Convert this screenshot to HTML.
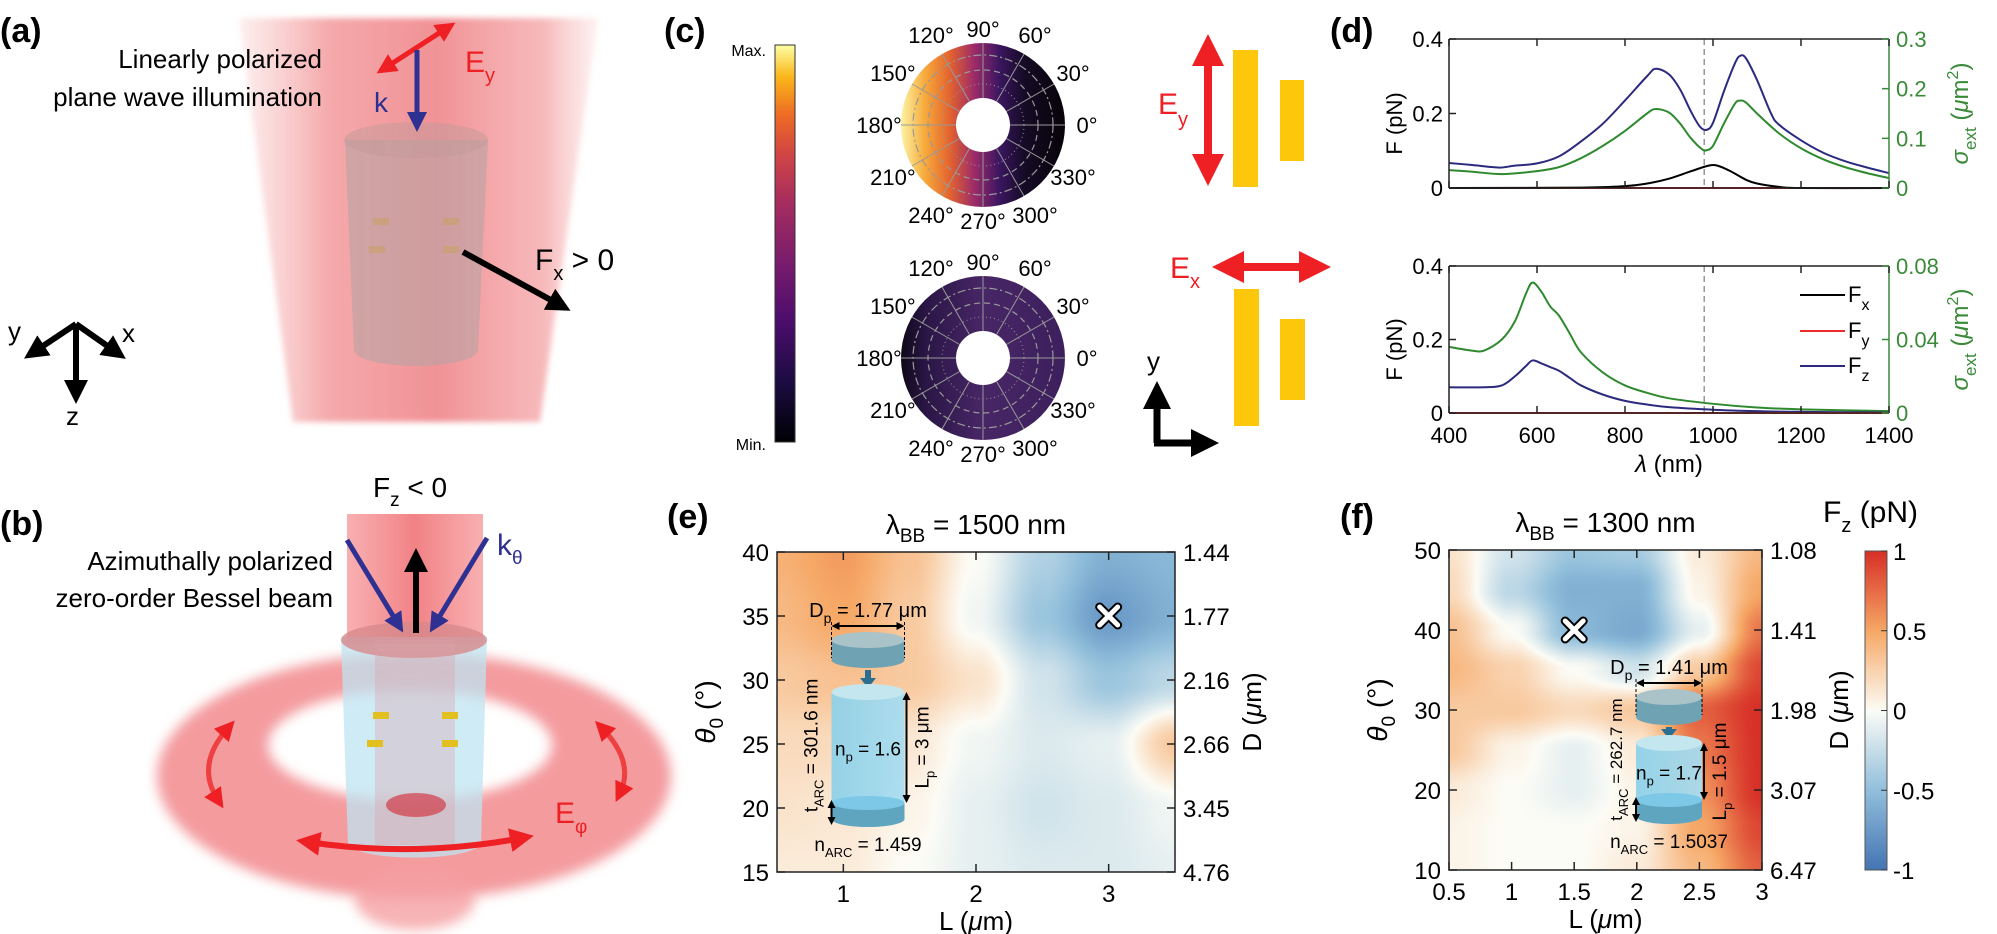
<!DOCTYPE html>
<html><head><meta charset="utf-8">
<style>
html,body{margin:0;padding:0;background:#fff;}
#wrap{position:relative;width:1997px;height:934px;overflow:hidden;font-family:"Liberation Sans",sans-serif;}
canvas{position:absolute;}
svg{position:absolute;left:0;top:0;}
text{font-family:"Liberation Sans",sans-serif;}
.nar{font-family:"Liberation Sans Narrow","Liberation Sans",sans-serif;}
</style></head>
<body>
<div id="wrap">
<canvas id="heatE" width="398" height="320" style="left:777px;top:552px;"></canvas>
<canvas id="heatF" width="313" height="320" style="left:1449px;top:550px;"></canvas>
<canvas id="cbar" width="22" height="319" style="left:1865px;top:551px;"></canvas>
<svg id="svg" width="1997" height="934" viewBox="0 0 1997 934" xmlns="http://www.w3.org/2000/svg">
<defs>
 <linearGradient id="beamA" x1="0" x2="1" y1="0" y2="0">
  <stop offset="0" stop-color="#f7b0b0" stop-opacity="0.2"/>
  <stop offset="0.25" stop-color="#f39a9c" stop-opacity="0.85"/>
  <stop offset="0.55" stop-color="#f08c90" stop-opacity="0.95"/>
  <stop offset="0.85" stop-color="#f5a8aa" stop-opacity="0.8"/>
  <stop offset="1" stop-color="#fbd0d0" stop-opacity="0.3"/>
 </linearGradient>
 <linearGradient id="beamB" x1="0" x2="1">
  <stop offset="0" stop-color="#f58a8c" stop-opacity="0.8"/>
  <stop offset="0.5" stop-color="#ef6b70"/>
  <stop offset="1" stop-color="#f58a8c" stop-opacity="0.8"/>
 </linearGradient>
 <filter id="blur6"><feGaussianBlur stdDeviation="6"/></filter>
 <filter id="blur3"><feGaussianBlur stdDeviation="3"/></filter>
 <linearGradient id="pol1" x1="0" x2="1">
  <stop offset="0" stop-color="#fcf4a2"/>
  <stop offset="0.15" stop-color="#f6a83a"/>
  <stop offset="0.3" stop-color="#e2622f"/>
  <stop offset="0.45" stop-color="#9b2a6a"/>
  <stop offset="0.6" stop-color="#3b1660"/>
  <stop offset="0.75" stop-color="#160b26"/>
  <stop offset="1" stop-color="#060308"/>
 </linearGradient>
 <linearGradient id="pol2" x1="0" x2="1">
  <stop offset="0" stop-color="#0f0818"/>
  <stop offset="0.15" stop-color="#2a1646"/>
  <stop offset="0.5" stop-color="#482666"/>
  <stop offset="1" stop-color="#3c1f5c"/>
 </linearGradient>
 <linearGradient id="infcb" x1="0" x2="0" y1="1" y2="0">
  <stop offset="0" stop-color="#000004"/>
  <stop offset="0.15" stop-color="#1b0c41"/>
  <stop offset="0.3" stop-color="#4a0c6b"/>
  <stop offset="0.45" stop-color="#781c6d"/>
  <stop offset="0.6" stop-color="#a52c60"/>
  <stop offset="0.72" stop-color="#cf4446"/>
  <stop offset="0.82" stop-color="#ed6925"/>
  <stop offset="0.92" stop-color="#fbb61a"/>
  <stop offset="1" stop-color="#fcffa4"/>
 </linearGradient>
 <linearGradient id="cylE" x1="0" x2="1">
  <stop offset="0" stop-color="#8fd0e8"/><stop offset="1" stop-color="#a8dcef"/>
 </linearGradient>
 <marker id="ahR" markerWidth="4" markerHeight="4" refX="2" refY="2" orient="auto-start-reverse" markerUnits="strokeWidth"><path d="M0,0 L4,2 L0,4 Z" fill="#ee2024"/></marker>
 <marker id="ahK" markerWidth="4" markerHeight="4" refX="2" refY="2" orient="auto-start-reverse" markerUnits="strokeWidth"><path d="M0,0 L4,2 L0,4 Z" fill="#000"/></marker>
 <marker id="ahB" markerWidth="4" markerHeight="4" refX="2" refY="2" orient="auto-start-reverse" markerUnits="strokeWidth"><path d="M0,0 L4,2 L0,4 Z" fill="#2e3192"/></marker>
 <marker id="ahS" markerWidth="8" markerHeight="8" refX="4" refY="4" orient="auto-start-reverse" markerUnits="userSpaceOnUse"><path d="M0,0 L8,4 L0,8 Z" fill="#000"/></marker>
</defs>

<g>
 <text x="0" y="42" font-size="34" font-weight="bold">(a)</text>
 <polygon points="239,18 598,18 540,422 293,422" fill="url(#beamA)" filter="url(#blur3)"/>
 <path d="M345,140 L354,350 A62,16 0 0 0 478,350 L488,140 Z" fill="#b7a3a3" opacity="0.6"/>
 <ellipse cx="416" cy="140" rx="72" ry="18" fill="#c49a9a" opacity="0.5"/>
 <g fill="#c9a070" opacity="0.7"><rect x="373" y="218" width="16" height="7"/><rect x="443" y="218" width="16" height="7"/><rect x="369" y="246" width="16" height="7"/><rect x="443" y="246" width="16" height="7"/></g>
 <text x="322" y="68" font-size="26" text-anchor="end">Linearly polarized</text>
 <text x="322" y="106" font-size="26" text-anchor="end">plane wave illumination</text>
 <line x1="385" y1="68" x2="447" y2="28" stroke="#ee2024" stroke-width="5" marker-start="url(#ahR)" marker-end="url(#ahR)"/>
 <line x1="417" y1="50" x2="417" y2="122" stroke="#2e3192" stroke-width="5" marker-end="url(#ahB)"/>
 <text x="374" y="112" font-size="28" fill="#2e3192">k</text>
 <text x="465" y="72" font-size="30" fill="#ee2024">E<tspan font-size="20" dy="10">y</tspan></text>
 <line x1="463" y1="252" x2="560" y2="305" stroke="#000" stroke-width="6" marker-end="url(#ahK)"/>
 <text x="535" y="270" font-size="30">F<tspan font-size="20" dy="10">x</tspan><tspan dy="-10"> &gt; 0</tspan></text>
 <g stroke="#000" stroke-width="6">
  <line x1="76" y1="324" x2="76" y2="392" marker-end="url(#ahK)"/>
  <line x1="76" y1="324" x2="34" y2="352" marker-end="url(#ahK)"/>
  <line x1="76" y1="324" x2="116" y2="352" marker-end="url(#ahK)"/>
 </g>
 <text x="8" y="340" font-size="26">y</text>
 <text x="122" y="342" font-size="26">x</text>
 <text x="66" y="425" font-size="26">z</text>
</g>

<g>
 <text x="0" y="535" font-size="34" font-weight="bold">(b)</text>
 <text x="410" y="497" font-size="28" text-anchor="middle">F<tspan font-size="19" dy="9">z</tspan><tspan dy="-9"> &lt; 0</tspan></text>
 <text x="333" y="570" font-size="26" text-anchor="end">Azimuthally polarized</text>
 <text x="333" y="607" font-size="26" text-anchor="end">zero-order Bessel beam</text>
 <rect x="347" y="514" width="136" height="130" fill="url(#beamB)" opacity="0.85"/>
 <path fill-rule="evenodd" d="M157,776 a257,123 0 1 0 514,0 a257,123 0 1 0 -514,0 Z M268,745 a142,55 0 1 0 284,0 a142,55 0 1 0 -284,0 Z" fill="#f28a8e" opacity="0.85" filter="url(#blur6)"/>
 <ellipse cx="415" cy="900" rx="60" ry="30" fill="#f5a0a3" opacity="0.8" filter="url(#blur6)"/>
 <path d="M341,637 L348,845 A68,16 0 0 0 481,845 L487,637 Z" fill="#bfe4f2" opacity="0.75"/>
 <ellipse cx="414" cy="640" rx="73" ry="18" fill="#d78a8c" opacity="0.8"/>
 <rect x="375" y="640" width="80" height="205" fill="#d9a0a8" opacity="0.35"/>
 <ellipse cx="416" cy="805" rx="30" ry="12" fill="#d23c48" opacity="0.7"/>
 <g fill="#e2c020"><rect x="373" y="712" width="16" height="7"/><rect x="442" y="712" width="16" height="7"/><rect x="367" y="740" width="16" height="7"/><rect x="442" y="740" width="16" height="7"/></g>
 <line x1="416" y1="633" x2="416" y2="560" stroke="#000" stroke-width="6" marker-end="url(#ahK)"/>
 <line x1="347" y1="540" x2="398" y2="624" stroke="#2e3192" stroke-width="5" marker-end="url(#ahB)"/>
 <line x1="487" y1="538" x2="435" y2="624" stroke="#2e3192" stroke-width="5" marker-end="url(#ahB)"/>
 <text x="497" y="555" font-size="30" fill="#2e3192">k<tspan font-size="19" dy="9">θ</tspan></text>
 <path d="M308,842 Q415,858 522,838" fill="none" stroke="#ee2024" stroke-width="6" marker-start="url(#ahR)" marker-end="url(#ahR)"/>
 <path d="M228,728 Q195,765 218,800" fill="none" stroke="#ee4040" stroke-width="5" marker-start="url(#ahR)" marker-end="url(#ahR)"/>
 <path d="M602,728 Q635,762 620,793" fill="none" stroke="#ee4040" stroke-width="5" marker-start="url(#ahR)" marker-end="url(#ahR)"/>
 <text x="555" y="823" font-size="30" fill="#ee2024">E<tspan font-size="19" dy="10">φ</tspan></text>
</g>

<g>
 <text x="664" y="42" font-size="34" font-weight="bold">(c)</text>
 <rect x="775" y="45" width="20" height="397" fill="url(#infcb)" stroke="#333" stroke-width="1"/>
 <text x="766" y="56" font-size="16" text-anchor="end">Max.</text>
 <text x="766" y="450" font-size="16" text-anchor="end">Min.</text>
 <g id="polars"></g>
</g>

<g>
 <line x1="1208" y1="50" x2="1208" y2="170" stroke="#ee2024" stroke-width="8" marker-start="url(#ahR)" marker-end="url(#ahR)"/>
 <text x="1158" y="114" font-size="30" fill="#ee2024">E<tspan font-size="20" dy="12">y</tspan></text>
 <rect x="1233" y="50" width="25" height="137" fill="#fdc70c"/>
 <rect x="1280" y="80" width="24" height="81" fill="#fdc70c"/>
 <line x1="1228" y1="267" x2="1315" y2="267" stroke="#ee2024" stroke-width="8" marker-start="url(#ahR)" marker-end="url(#ahR)"/>
 <text x="1170" y="278" font-size="30" fill="#ee2024">E<tspan font-size="20" dy="10">x</tspan></text>
 <rect x="1234" y="289" width="25" height="137" fill="#fdc70c"/>
 <rect x="1280" y="319" width="25" height="81" fill="#fdc70c"/>
 <line x1="1157" y1="443" x2="1157" y2="395" stroke="#000" stroke-width="7" marker-end="url(#ahK)"/>
 <line x1="1154" y1="443" x2="1205" y2="443" stroke="#000" stroke-width="7" marker-end="url(#ahK)"/>
 <text x="1147" y="370" font-size="26">y</text>
</g>

<g id="panelD">
 <text x="1330" y="42" font-size="34" font-weight="bold">(d)</text>
</g>

<g id="panelE">
 <text x="667" y="528" font-size="34" font-weight="bold">(e)</text>
</g>
<g id="panelF">
 <text x="1340" y="528" font-size="34" font-weight="bold">(f)</text>
</g>
</svg>
</div>
<script>
const lamFzTop=[400,450,500,520,550,600,650,700,750,800,850,870,900,925,950,970,985,1000,1025,1050,1062,1075,1100,1132,1150,1200,1250,1300,1350,1400];
const fzTop=[0.067,0.062,0.056,0.055,0.06,0.066,0.085,0.125,0.173,0.235,0.3,0.32,0.305,0.265,0.205,0.165,0.156,0.175,0.26,0.335,0.355,0.348,0.29,0.2,0.17,0.128,0.095,0.072,0.055,0.04];
const lamSigTop=[400,450,520,600,650,700,750,800,850,870,900,925,950,975,985,1000,1025,1050,1062,1075,1100,1150,1200,1250,1300,1350,1400];
const sigTop=[0.036,0.033,0.028,0.034,0.042,0.06,0.085,0.115,0.15,0.159,0.152,0.13,0.1,0.078,0.076,0.085,0.13,0.17,0.176,0.172,0.15,0.11,0.08,0.058,0.042,0.03,0.02];
const lamFxTop=[400,700,800,850,900,950,990,1010,1040,1075,1100,1150,1200,1400];
const fxTop=[0,0.001,0.005,0.012,0.025,0.045,0.06,0.06,0.045,0.022,0.012,0.003,0,0];
const lamSigBot=[400,450,480,520,550,575,590,610,630,650,675,700,750,800,850,900,1000,1100,1200,1400];
const sigBot=[0.036,0.034,0.034,0.04,0.05,0.065,0.071,0.066,0.058,0.053,0.043,0.033,0.022,0.015,0.011,0.008,0.005,0.003,0.002,0.001];
const lamFzBot=[400,480,520,550,575,590,610,630,650,675,700,750,800,850,900,1000,1100,1200,1400];
const fzBot=[0.07,0.07,0.075,0.1,0.128,0.143,0.135,0.125,0.115,0.095,0.075,0.05,0.033,0.023,0.016,0.009,0.005,0.003,0.001];
const lamZero=[400,1400];
const zeroVals=[0,0];
const xTicks=[400,600,800,1000,1200,1400];
const fTicksTop=[0,0.2,0.4];
const sTicksTop=[0,0.1,0.2,0.3];
const sTicksBot=[0,0.04,0.08];
const dashedLambda=980;

const eL=[0.5,1,1.5,2,2.5,3,3.5];
const eTheta=[40,35,30,25,20,15];
const eVals=[
 [0.45,0.55,0.35,0.0,-0.35,-0.6,-0.55],
 [0.4,0.5,0.3,-0.05,-0.45,-0.75,-0.6],
 [0.3,0.35,0.3,0.15,-0.2,-0.45,-0.3],
 [0.2,0.2,0.12,-0.05,-0.15,-0.1,0.3],
 [0.15,0.12,0.05,-0.1,-0.2,-0.15,-0.05],
 [0.1,0.1,0.0,-0.1,-0.15,-0.15,-0.1]];
const eXTicks=[1,2,3];
const eYTicks=[15,20,25,30,35,40];
const eDLabels=["4.76","3.45","2.66","2.16","1.77","1.44"];
const eMark=[3,35];
const fL=[0.5,1,1.5,2,2.5,3];
const fTheta=[50,45,40,35,30,25,20,15,10];
const fVals=[
 [0.15,-0.2,-0.45,-0.4,0.1,0.4],
 [0.2,-0.3,-0.6,-0.6,0.05,0.5],
 [0.35,0.0,-0.55,-0.65,-0.1,0.7],
 [0.4,0.25,0.0,-0.2,0.3,0.9],
 [0.3,0.3,0.2,0.3,0.8,1],
 [0.3,0.05,-0.1,0.1,0.7,1],
 [0.1,0.0,-0.1,0.05,0.6,1],
 [0.05,0.0,0.0,0.05,0.5,0.9],
 [0.05,0.0,0.0,0.1,0.4,0.8]];
const fXTicks=[0.5,1,1.5,2,2.5,3];
const fYTicks=[10,20,30,40,50];
const fDLabels=["6.47","3.07","1.98","1.41","1.08"];
const fMark=[1.5,40];
const cbTicks=[-1,-0.5,0,0.5,1];

const NS="http://www.w3.org/2000/svg";
function mk(tag,attrs,parent,txt){const e=document.createElementNS(NS,tag);for(const k in attrs)e.setAttribute(k,attrs[k]);if(txt!==undefined)e.textContent=txt;parent.appendChild(e);return e;}
function smooth(pts){let d="M"+pts[0][0]+","+pts[0][1];for(let i=0;i<pts.length-1;i++){const p0=pts[Math.max(i-1,0)],p1=pts[i],p2=pts[i+1],p3=pts[Math.min(i+2,pts.length-1)];const c1x=p1[0]+(p2[0]-p0[0])/6,c1y=p1[1]+(p2[1]-p0[1])/6,c2x=p2[0]-(p3[0]-p1[0])/6,c2y=p2[1]-(p3[1]-p1[1])/6;d+=` C${c1x},${c1y} ${c2x},${c2y} ${p2[0]},${p2[1]}`;}return d;}

const D=document.getElementById('panelD');
const X0=1449,X1=1889;
const xs=l=>X0+(l-400)/1000*(X1-X0);
function drawPlot(top,bot,fMax,sMax,sTicks,series,idx){
 const yF=v=>bot-v/fMax*(bot-top), yS=v=>bot-v/sMax*(bot-top);
 const g=mk('g',{},D);
 
 
 mk('line',{x1:xs(dashedLambda),x2:xs(dashedLambda),y1:top,y2:bot,stroke:'#888','stroke-width':1.3,'stroke-dasharray':'6,4'},g);
 series.forEach(s=>{const pts=s.x.map((l,i)=>[xs(l),(s.ax==='s'?yS:yF)(s.y[i])]);const p=mk('path',{d:smooth(pts),fill:'none',stroke:s.c,'stroke-width':2},g);});
 mk('line',{x1:X0,x2:X1,y1:top,y2:top,stroke:'#222','stroke-width':1.5},g);
 mk('line',{x1:X0,x2:X0,y1:top,y2:bot,stroke:'#222','stroke-width':1.5},g);
 mk('line',{x1:X0,x2:X1,y1:bot,y2:bot,stroke:'#222','stroke-width':1.5},g);
 mk('line',{x1:X1,x2:X1,y1:top,y2:bot,stroke:'#3a8a3a','stroke-width':1.5},g);
 xTicks.forEach(t=>{mk('line',{x1:xs(t),x2:xs(t),y1:top,y2:top+7,stroke:'#222','stroke-width':1.5},g);mk('line',{x1:xs(t),x2:xs(t),y1:bot,y2:bot-7,stroke:'#222','stroke-width':1.5},g);});
 fTicksTop.forEach(t=>{mk('line',{x1:X0,x2:X0+7,y1:yF(t),y2:yF(t),stroke:'#222','stroke-width':1.5},g);const tx=mk('text',{x:X0-6,y:yF(t)+8,'font-size':22,'text-anchor':'end',class:'nar'},g,String(t));});
 sTicks.forEach(t=>{mk('line',{x1:X1,x2:X1-7,y1:yS(t),y2:yS(t),stroke:'#3a8a3a','stroke-width':1.5},g);mk('text',{x:X1+7,y:yS(t)+8,'font-size':22,fill:'#3a8a3a',class:'nar'},g,String(t));});
 const cy=(top+bot)/2;
 const yl=mk('text',{x:0,y:0,'font-size':22,'text-anchor':'middle',transform:`translate(1402,${cy+10}) rotate(-90)`},g,'F (pN)');
 
 const sl=mk('text',{x:0,y:0,'font-size':24,'text-anchor':'middle',fill:'#3a8a3a',transform:`translate(1968,${cy}) rotate(-90)`},g);
 
 sl.innerHTML='<tspan font-style="italic">σ</tspan><tspan font-size="17" dy="8">ext</tspan><tspan dy="-8"> (</tspan><tspan font-style="italic">μ</tspan><tspan>m</tspan><tspan font-size="16" dy="-10">2</tspan><tspan dy="10">)</tspan>';
}
drawPlot(39,188,0.4,0.3,sTicksTop,[
 {x:lamZero,y:zeroVals,c:'#ee2b2b',n:'fy-line-top'},
 {x:lamFxTop,y:fxTop,c:'#000',n:'fx-line-top'},
 {x:lamSigTop,y:sigTop,c:'#2f8a2f',ax:'s',n:'sigma-line-top'},
 {x:lamFzTop,y:fzTop,c:'#2b2a7f',n:'fz-line-top'}],'top');
drawPlot(266,413,0.4,0.08,sTicksBot,[
 {x:lamZero,y:zeroVals,c:'#000',n:'fx-line-bottom'},
 {x:lamSigBot,y:sigBot,c:'#2f8a2f',ax:'s',n:'sigma-line-bottom'},
 {x:lamFzBot,y:fzBot,c:'#2b2a7f',n:'fz-line-bottom'},
 {x:lamZero,y:zeroVals,c:'#ee2b2b',n:'fy-line-bottom'}],'bottom');
xTicks.forEach(t=>{const tx=mk('text',{x:xs(t),y:443,'font-size':22,'text-anchor':'middle',class:'nar'},D,String(t));});
const xl=mk('text',{x:1669,y:472,'font-size':24,'text-anchor':'middle'},D);xl.innerHTML='<tspan font-style="italic">λ</tspan> (nm)';

[['#000','x',295],['#ee2b2b','y',331],['#2b2a7f','z',366]].forEach(([c,s,y])=>{const g=mk('g',{},D);mk('line',{x1:1800,x2:1845,y1:y,y2:y,stroke:c,'stroke-width':2},g);const t=mk('text',{x:1848,y:y+7,'font-size':22,class:'nar'},g);t.innerHTML='F<tspan font-size="16" dy="8">'+s+'</tspan>';});

const P=document.getElementById('polars');
const polarAngles=[0,30,60,90,120,150,180,210,240,270,300,330];
function polar(cx,cy,fill,idx){
 const R=82,r=27;const g=mk('g',{},P);
 mk('path',{d:`M${cx-R},${cy} a${R},${R} 0 1 0 ${2*R},0 a${R},${R} 0 1 0 ${-2*R},0 Z M${cx-r},${cy} a${r},${r} 0 1 0 ${2*r},0 a${r},${r} 0 1 0 ${-2*r},0 Z`,fill:fill,'fill-rule':'evenodd'},g);
 mk('circle',{cx,cy,r:41,fill:'none',stroke:'#999','stroke-width':1,'stroke-dasharray':'1,3'},g);
 mk('circle',{cx,cy,r:55,fill:'none',stroke:'#999','stroke-width':1.2,'stroke-dasharray':'6,4'},g);
 mk('circle',{cx,cy,r:70,fill:'none',stroke:'#999','stroke-width':1.2,'stroke-dasharray':'8,3,2,3'},g);
 polarAngles.forEach(a=>{const c=Math.cos(a*Math.PI/180),s=-Math.sin(a*Math.PI/180);mk('line',{x1:cx+r*c,y1:cy+r*s,x2:cx+R*c,y2:cy+R*s,stroke:'#999','stroke-width':1},g);
  const lr=a===90||a===270?R+14:R+22;const t=mk('text',{x:cx+lr*c,y:cy+lr*s+8,'font-size':22,'text-anchor':'middle'},g,a+'°');});
}
polar(983,125,'url(#pol1)','top');
polar(983,358,'url(#pol2)','bottom');

const cstops=[[-1,[69,117,180]],[-0.5,[145,191,219]],[0,[252,252,246]],[0.5,[246,168,102]],[1,[215,48,39]]];
function cmap(v){v=Math.max(-1,Math.min(1,v));for(let i=0;i<cstops.length-1;i++){const[a,ca]=cstops[i],[b,cb]=cstops[i+1];if(v<=b){const t=(v-a)/(b-a);return ca.map((x,k)=>Math.round(x+(cb[k]-x)*t));}}return cstops[4][1];}
function heat(id,Ls,Ts,V){
 const cv=document.getElementById(id),ctx=cv.getContext('2d'),W=cv.width,H=cv.height;const img=ctx.createImageData(W,H);
 const nx=Ls.length-1,ny=Ts.length-1;
 for(let py=0;py<H;py++)for(let px=0;px<W;px++){
  const gx=px/(W-1)*nx,gy=py/(H-1)*ny;const i=Math.min(Math.floor(gx),nx-1),j=Math.min(Math.floor(gy),ny-1);
  let tx=gx-i,ty=gy-j;tx=tx*tx*(3-2*tx);ty=ty*ty*(3-2*ty);
  const v=(V[j][i]*(1-tx)+V[j][i+1]*tx)*(1-ty)+(V[j+1][i]*(1-tx)+V[j+1][i+1]*tx)*ty;
  const c=cmap(v),o=(py*W+px)*4;img.data[o]=c[0];img.data[o+1]=c[1];img.data[o+2]=c[2];img.data[o+3]=255;}
 ctx.putImageData(img,0,0);
}
heat('heatE',eL,eTheta,eVals);
heat('heatF',fL,fTheta,fVals);
(function(){const cv=document.getElementById('cbar'),ctx=cv.getContext('2d');for(let y=0;y<cv.height;y++){const c=cmap(1-2*y/(cv.height-1));ctx.fillStyle=`rgb(${c})`;ctx.fillRect(0,y,cv.width,1);}})();

function axesHeat(gid,x0,x1,y0,y1,lMin,lMax,tMin,tMax,xT,yT,dL,mark,title,idx){
 const g=document.getElementById(gid);
 const sx=l=>x0+(l-lMin)/(lMax-lMin)*(x1-x0),sy=t=>y1-(t-tMin)/(tMax-tMin)*(y1-y0);
 mk('rect',{x:x0,y:y0,width:x1-x0,height:y1-y0,fill:'none',stroke:'#222','stroke-width':1.5},g);
 xT.forEach(t=>{mk('line',{x1:sx(t),x2:sx(t),y1:y1,y2:y1-8,stroke:'#222','stroke-width':1.5},g);mk('line',{x1:sx(t),x2:sx(t),y1:y0,y2:y0+8,stroke:'#222','stroke-width':1.5},g);const tx=mk('text',{x:sx(t),y:y1+30,'font-size':24,'text-anchor':'middle'},g,String(t));});
 yT.forEach((t,i)=>{mk('line',{x1:x0,x2:x0+8,y1:sy(t),y2:sy(t),stroke:'#222','stroke-width':1.5},g);mk('line',{x1:x1,x2:x1-8,y1:sy(t),y2:sy(t),stroke:'#222','stroke-width':1.5},g);
  const tx=mk('text',{x:x0-8,y:sy(t)+9,'font-size':24,'text-anchor':'end'},g,String(t));
  mk('text',{x:x1+8,y:sy(t)+9,'font-size':24},g,dL[i]);});
 const xl=mk('text',{x:(x0+x1)/2,y:y1+58,'font-size':26,'text-anchor':'middle'},g);xl.innerHTML='L (<tspan font-style="italic">μ</tspan>m)';
 
 const yl=mk('text',{x:0,y:0,'font-size':28,'text-anchor':'middle',transform:`translate(${x0-62},${(y0+y1)/2}) rotate(-90)`},g);yl.innerHTML='<tspan font-style="italic">θ</tspan><tspan font-size="19" dy="8">0</tspan><tspan dy="-8"> (°)</tspan>';
 
 const dl=mk('text',{x:0,y:0,'font-size':26,'text-anchor':'middle',transform:`translate(${x1+86},${(y0+y1)/2}) rotate(-90)`},g);dl.innerHTML='D (<tspan font-style="italic">μ</tspan>m)';
 const tt=mk('text',{x:(x0+x1)/2,y:y0-18,'font-size':28,'text-anchor':'middle'},g);tt.innerHTML='λ<tspan font-size="19" dy="8">BB</tspan><tspan dy="-8"> = '+title+'</tspan>';
 
 const mx=sx(mark[0]),my=sy(mark[1]);
 const m=mk('path',{d:`M${mx-9},${my-9} L${mx+9},${my+9} M${mx+9},${my-9} L${mx-9},${my+9}`,stroke:'#000','stroke-width':9,'stroke-linecap':'round'},g);
 
 mk('path',{d:`M${mx-9},${my-9} L${mx+9},${my+9} M${mx+9},${my-9} L${mx-9},${my+9}`,stroke:'#fff','stroke-width':5,'stroke-linecap':'round'},g);
}
axesHeat('panelE',777,1175,552,872,0.5,3.5,15,40,eXTicks,eYTicks,eDLabels,eMark,'1500 nm','e');
axesHeat('panelF',1449,1762,550,870,0.5,3,10,50,fXTicks,fYTicks,fDLabels,fMark,'1300 nm','f');
const G=document.getElementById('panelF');
mk('rect',{x:1865,y:551,width:22,height:319,fill:'none',stroke:'#555','stroke-width':1},G);
cbTicks.forEach(t=>{const y=870-(t+1)/2*319;mk('line',{x1:1887,x2:1881,y1:y,y2:y,stroke:'#333'},G);const tx=mk('text',{x:1893,y:y+9,'font-size':24},G,String(t));});
const ct=mk('text',{x:1823,y:522,'font-size':30},G);ct.innerHTML='F<tspan font-size="20" dy="10">z</tspan><tspan dy="-10"> (pN)</tspan>';


function inset(gid,cx,w,dTop,cTop,cBot,txt,tFs,tShift){
 const g=mk('g',{},document.getElementById(gid));
 const l=cx-w/2,r=cx+w/2;
 mk('path',{d:`M${l},${dTop} L${l},${dTop+20} A${w/2},8 0 0 0 ${r},${dTop+20} L${r},${dTop} Z`,fill:'#6fa3b3'},g);
 mk('ellipse',{cx,cy:dTop,rx:w/2,ry:8,fill:'#a9c3c9'},g);
 mk('line',{x1:l,x2:l,y1:dTop-18,y2:dTop+18,stroke:'#000','stroke-dasharray':'3,2'},g);mk('line',{x1:r,x2:r,y1:dTop-18,y2:dTop+18,stroke:'#000','stroke-dasharray':'3,2'},g);
 mk('line',{x1:l+4,x2:r-4,y1:dTop-14,y2:dTop-14,stroke:'#000','stroke-width':2,'marker-start':'url(#ahS)','marker-end':'url(#ahS)'},g);
 mk('line',{x1:cx,x2:cx,y1:dTop+30,y2:cTop-12,stroke:'#2a6e91','stroke-width':6},g);
 mk('path',{d:`M${cx-8},${cTop-14} L${cx+8},${cTop-14} L${cx},${cTop-4} Z`,fill:'#2a6e91'},g);
 mk('path',{d:`M${l},${cTop} L${l},${cBot+16} A${w/2},8 0 0 0 ${r},${cBot+16} L${r},${cTop} Z`,fill:'url(#cylE)',opacity:0.95},g);
 mk('ellipse',{cx,cy:cTop,rx:w/2,ry:8,fill:'#c4e6ef'},g);
 mk('path',{d:`M${l},${cBot} L${l},${cBot+16} A${w/2},8 0 0 0 ${r},${cBot+16} L${r},${cBot} Z`,fill:'#5fa5c0'},g);
 mk('ellipse',{cx,cy:cBot,rx:w/2,ry:7,fill:'#7cc8e6'},g);
 mk('line',{x1:r+2,x2:r+2,y1:cTop+4,y2:cBot-4,stroke:'#000','stroke-width':2,'marker-start':'url(#ahS)','marker-end':'url(#ahS)'},g);
 mk('line',{x1:l,x2:l,y1:cBot+1,y2:cBot+18,stroke:'#000','stroke-width':2,'marker-start':'url(#ahS)','marker-end':'url(#ahS)'},g);
 const t1=mk('text',{x:cx,y:dTop-23,'font-size':20,'text-anchor':'middle'},g);t1.innerHTML='D<tspan font-size="14" dy="6">p</tspan><tspan dy="-6"> = '+txt.d+' μm</tspan>';
 const t2=mk('text',{x:cx,y:(cTop+cBot)/2+8,'font-size':19,'text-anchor':'middle'},g);t2.innerHTML='n<tspan font-size="13" dy="6">p</tspan><tspan dy="-6"> = '+txt.n+'</tspan>';
 const t3=mk('text',{x:0,y:0,'font-size':19,'text-anchor':'middle',transform:`translate(${r+24},${(cTop+cBot)/2}) rotate(-90)`},g);t3.innerHTML='L<tspan font-size="13" dy="6">p</tspan><tspan dy="-6"> = '+txt.l+' μm</tspan>';
 const t4=mk('text',{x:0,y:0,'font-size':tFs,'text-anchor':'middle',transform:`translate(${l-14},${(cTop+cBot)/2+tShift}) rotate(-90)`},g);t4.innerHTML='t<tspan font-size="13" dy="6">ARC</tspan><tspan dy="-6"> = '+txt.t+' nm</tspan>';
 const t5=mk('text',{x:cx,y:cBot+48,'font-size':19,'text-anchor':'middle'},g);t5.innerHTML='n<tspan font-size="13" dy="6">ARC</tspan><tspan dy="-6"> = '+txt.a+'</tspan>';
}
inset('panelE',868,73,640,692,803,{d:'1.77',n:'1.6',l:'3',t:'301.6',a:'1.459'},19,-2);
inset('panelF',1669,66,697,743,800,{d:'1.41',n:'1.7',l:'1.5',t:'262.7',a:'1.5037'},17,-12);
</script>
</body></html>
